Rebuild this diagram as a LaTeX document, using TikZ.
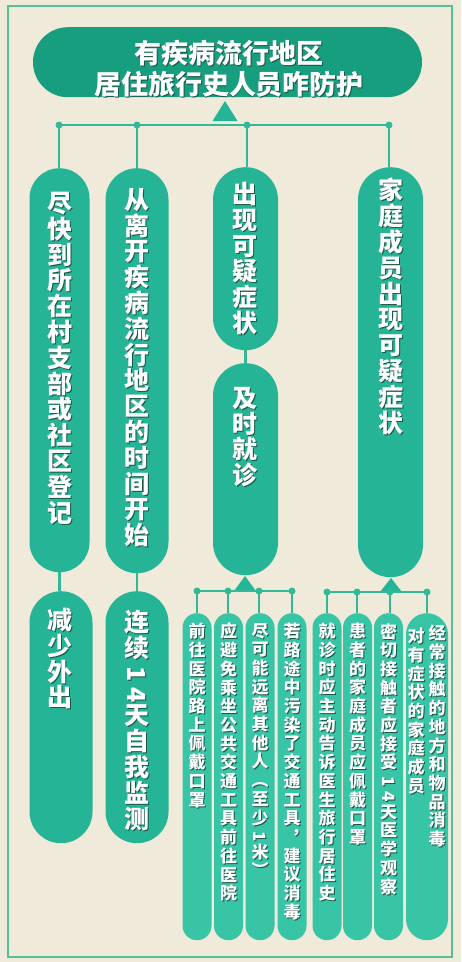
\documentclass[tikz,border=0pt]{standalone}
\usepackage{fontspec}
\usepackage{graphicx}
\newfontfamily\cjk{Noto Sans CJK SC}
\definecolor{bg}{RGB}{240,234,219}
\definecolor{framec}{RGB}{85,192,152}
\definecolor{titlec}{RGB}{22,158,126}
\definecolor{pillc}{RGB}{38,180,150}
\definecolor{spillc}{RGB}{56,197,166}
\definecolor{linec}{RGB}{50,186,152}
\definecolor{shadowc}{RGB}{25,85,70}
\makeatletter
\newif\ifvs@adj
\newcommand\shtxt[1]{\leavevmode\rlap{\kern1pt\raisebox{-1pt}{\textcolor{shadowc}{#1}}}#1}
\newcommand\vstack[2]{\vbox{\baselineskip=#1\lineskiplimit=-60pt\lineskip=0pt
  \@tfor\vs@c:=#2\do{\global\vs@adjfalse\hbox to 1.3em{\hss\shtxt{\vs@c}\hss}%
    \ifvs@adj\vskip-0.2em\fi}}}
\newcommand\rotd[1]{\global\vs@adjtrue\rotatebox[origin=c]{-90}{#1}}
\makeatother
\newcommand\bigfont{\cjk\bfseries\fontsize{25}{25.8}\selectfont}
\newcommand\smallfont{\cjk\bfseries\fontsize{17}{18.7}\selectfont}
\begin{document}
\begin{tikzpicture}[x=1pt,y=-1pt,
  pill/.style={inner sep=0pt, anchor=north, draw=none},
  bigpill/.style={pill, fill=pillc},
  smallpill/.style={pill, fill=spillc, minimum width=29pt, minimum height=327pt, rounded corners=14.5pt},
  conn/.style={draw=linec, line width=2.4pt},
  dotn/.style={circle, fill=linec, inner sep=0pt, minimum size=7pt},
  vtxt/.style={text=white, inner sep=0pt, anchor=north},
  bigtxt/.style={vtxt, font=\bigfont},
  smalltxt/.style={vtxt, font=\smallfont}]
\useasboundingbox (0,0) rectangle (461,962);
\fill[bg] (0,0) rectangle (461,962);
\draw[framec, line width=1.6pt] (8,6) rectangle (452,957);

% title
\node[pill, fill=titlec, minimum width=389pt, minimum height=70pt, rounded corners=35pt] (title) at (227.5,27) {};
\node[vtxt, font=\cjk\bfseries\fontsize{27}{31}\selectfont, align=center] (titlet) at (229,40)
  {\shtxt{有疾病流行地区}\\\shtxt{居住旅行史人员咋防护}};
\fill[pillc] (225,101) -- (237.5,121) -- (212.5,121) -- cycle;

% main bus
\node[dotn] (d1) at (59,125) {};
\node[dotn] (d2) at (137,125) {};
\node[dotn] (d3) at (247,125) {};
\node[dotn] (d4) at (389,125) {};
\draw[conn] (d1.center) -- (d4.center);

% big pills
\node[bigpill, minimum width=60pt, minimum height=404pt, rounded corners=30pt] (c1) at (59.5,168) {};
\node[bigpill, minimum width=63pt, minimum height=405pt, rounded corners=31.5pt] (c2) at (137,168) {};
\node[bigpill, minimum width=65pt, minimum height=183pt, rounded corners=32.5pt] (c3a) at (245.5,167) {};
\node[bigpill, minimum width=65pt, minimum height=212pt, rounded corners=32.5pt] (c3b) at (245.5,363) {};
\node[bigpill, minimum width=65pt, minimum height=410pt, rounded corners=32.5pt] (c4) at (390.5,167) {};
\node[bigpill, minimum width=63pt, minimum height=252pt, rounded corners=31.5pt] (c1b) at (61,591) {};
\node[bigpill, minimum width=63pt, minimum height=252pt, rounded corners=31.5pt] (c2b) at (137,591) {};

\draw[conn] (d1.center) -- (d1.center |- c1.north);
\draw[conn] (d2.center) -- (d2.center |- c2.north);
\draw[conn] (d3.center) -- (d3.center |- c3a.north);
\draw[conn] (d4.center) -- (d4.center |- c4.north);
\draw[conn] (c1.south) -- (c1.south |- c1b.north);
\draw[conn] (c2.south) -- (c2b.north);
\draw[conn] (c3a.south) -- (c3b.north);

% small triangles and buses
\fill[pillc] (245,576) -- (256,591) -- (234,591) -- cycle;
\fill[pillc] (391,578) -- (402,592) -- (380,592) -- cycle;
\node[dotn] (e1) at (197,591) {};
\node[dotn] (e2) at (228,591) {};
\node[dotn] (e3) at (259,591) {};
\node[dotn] (e4) at (292,591) {};
\node[dotn] (f1) at (327,592) {};
\node[dotn] (f2) at (357,592) {};
\node[dotn] (f3) at (390,592) {};
\node[dotn] (f4) at (427,592) {};
\draw[conn] (e1.center) -- (e4.center);
\draw[conn] (f1.center) -- (f4.center);

% small pills
\node[smallpill] (p1) at (197,613) {};
\node[smallpill] (p2) at (228.5,613) {};
\node[smallpill] (p3) at (260,613) {};
\node[smallpill] (p4) at (292,613) {};
\node[smallpill] (p5) at (327,613) {};
\node[smallpill] (p6) at (357.5,613) {};
\node[smallpill] (p7) at (388.5,613) {};
\node[smallpill, minimum width=42pt, rounded corners=21pt] (p8) at (427,613) {};
\draw[conn] (e1.center) -- (e1.center |- p1.north);
\draw[conn] (e2.center) -- (e2.center |- p2.north);
\draw[conn] (e3.center) -- (e3.center |- p3.north);
\draw[conn] (e4.center) -- (e4.center |- p4.north);
\draw[conn] (f1.center) -- (f1.center |- p5.north);
\draw[conn] (f2.center) -- (f2.center |- p6.north);
\draw[conn] (f3.center) -- (f3.center |- p7.north);
\draw[conn] (f4.center) -- (f4.center |- p8.north);

% big texts
\node[bigtxt] (c1t) at (60,192) {\vstack{25.8pt}{尽快到所在村支部或社区登记}};
\node[bigtxt] (c2t) at (137,188) {\vstack{25.8pt}{从离开疾病流行地区的时间开始}};
\node[bigtxt] (c3at) at (245,182) {\vstack{25.8pt}{出现可疑症状}};
\node[bigtxt] (c3bt) at (245,387) {\vstack{25.8pt}{及时就诊}};
\node[bigtxt] (c4t) at (391,178) {\vstack{25.8pt}{家庭成员出现可疑症状}};
\node[bigtxt] (c1bt) at (60,608) {\vstack{25.8pt}{减少外出}};
\node[bigtxt] (c2bt) at (137,610) {\vstack{25.8pt}{连续{\rotd{1}}{\rotd{4}}天自我监测}};

% small texts
\node[smalltxt] (p1t) at (197,623) {\vstack{18.7pt}{前往医院路上佩戴口罩}};
\node[smalltxt] (p2t) at (228.5,623) {\vstack{18.7pt}{应避免乘坐公共交通工具前往医院}};
\node[smalltxt] (p3t) at (260,623) {\vstack{18.7pt}{尽可能远离其他人︵至少{\rotd{1}}米︶}};
\node[smalltxt] (p4t) at (292,623) {\vstack{18.7pt}{若路途中污染了交通工具︐建议消毒}};
\node[smalltxt] (p5t) at (327,623) {\vstack{18.7pt}{就诊时应主动告诉医生旅行居住史}};
\node[smalltxt] (p6t) at (357.5,623) {\vstack{18.7pt}{患者的家庭成员应佩戴口罩}};
\node[smalltxt] (p7t) at (388.5,623) {\vstack{18.7pt}{密切接触者应接受{\rotd{1}}{\rotd{4}}天医学观察}};
\node[smalltxt] (p8at) at (437,625) {\vstack{18.7pt}{经常接触的地方和物品消毒}};
\node[smalltxt] (p8bt) at (416,628) {\vstack{18.7pt}{对有症状的家庭成员}};
\end{tikzpicture}
\end{document}
